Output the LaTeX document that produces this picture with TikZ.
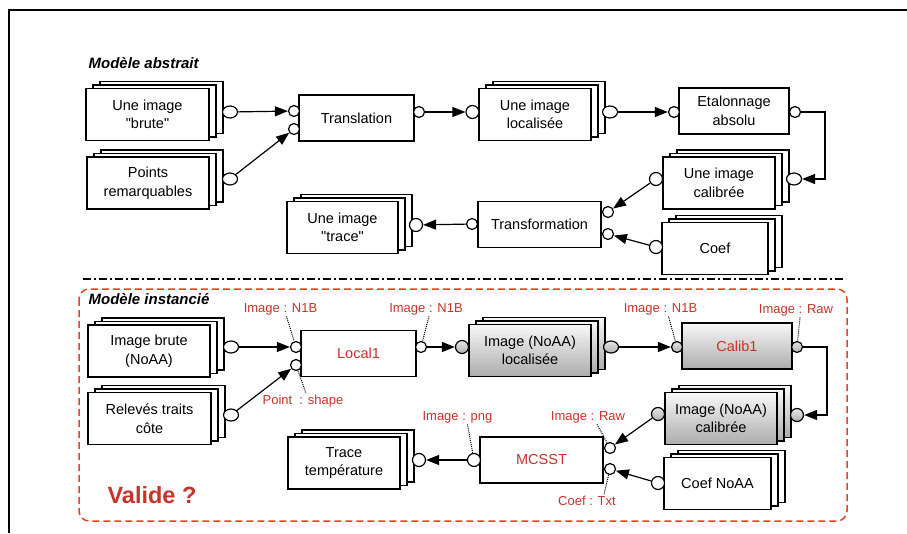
\documentclass[tikz,border=0pt]{standalone}
\usepackage{fontspec}
\newfontfamily\helv{Liberation Sans}
\usetikzlibrary{shapes.geometric,shadows,arrows.meta}
\definecolor{labred}{RGB}{200,50,40}
\definecolor{dashred}{RGB}{235,65,30}

\begin{document}
\begin{tikzpicture}[x=1pt,y=-1pt]
        \tikzstyle{every node}=[font=\helv\fontsize{14.5}{18.5}\selectfont, align=center, line width=1.2pt]
        \tikzstyle{grey}=[top color=gray!6, bottom color=gray!65]
        \tikzstyle{gport}=[top color=gray!20, bottom color=gray!60]
        \tikzstyle{box}=[draw, fill=white, minimum height=46pt, inner sep=2pt]
        \tikzstyle{stk}=[box, minimum height=52pt,
            copy shadow={shadow xshift=14pt, shadow yshift=7pt, draw, fill=white},
            copy shadow={shadow xshift=7pt, shadow yshift=3.5pt, draw, fill=white}]
        \tikzstyle{gstk}=[box, grey, minimum height=52pt,
            copy shadow={shadow xshift=14pt, shadow yshift=7pt, draw, grey},
            copy shadow={shadow xshift=7pt, shadow yshift=3.5pt, draw, grey}]
        \tikzstyle{port}=[draw, circle, fill=white, inner sep=0pt, minimum size=11pt]
        \tikzstyle{bport}=[port, minimum size=13pt]
        \tikzstyle{eport}=[draw, ellipse, fill=white, inner sep=0pt, minimum width=15pt, minimum height=12pt]
        \tikzstyle{arr}=[line width=1.2pt, -{Triangle[length=13pt,width=10pt]}]
        \tikzstyle{lbl}=[text=labred, font=\helv\fontsize{13}{15}\selectfont, inner sep=1pt]
        \tikzstyle{lead}=[densely dotted, line width=1pt]
        \tikzstyle{title}=[anchor=west, inner sep=0pt, font=\helv\fontsize{15}{18}\selectfont\bfseries\itshape]

        \useasboundingbox (0,0) rectangle (907,533);
        \draw[line width=1.2pt] (9,533) -- (9,10) -- (907,10);

        \node[title] (tabs) at (88,63) {Modèle abstrait};
        \node[stk, minimum width=123pt] (brute) at (147.5,114.5) {Une image\\"brute"};
        \node[stk, minimum width=122pt] (points) at (148,183) {Points\\remarquables};
        \node[box, minimum width=115pt] (trans) at (356.5,118) {Translation};
        \node[stk, minimum width=112pt] (loc) at (535,114.5) {Une image\\localisée};
        \node[box, minimum width=110pt] (etal) at (734,111) {Etalonnage\\absolu};
        \node[stk, minimum width=112pt] (calib) at (719,183) {Une image\\calibrée};
        \node[box, minimum width=123pt] (transf) at (539.5,224.5) {Transformation};
        \node[stk, minimum width=106pt] (coef) at (715,248.5) {Coef};
        \node[stk, minimum width=111pt] (trace) at (342.5,227.5) {Une image\\"trace"};

        \node[eport] (pb) at (230,112) {};
        \node[eport] (pp) at (230,179) {};
        \node[port] (t1) at (294,111) {};
        \node[port] (t2) at (294,129) {};
        \node[port] (to) at (419,112) {};
        \node[bport] (li) at (472.5,112) {};
        \node[eport] (lo) at (610,112) {};
        \node[port] (ei) at (674,112) {};
        \node[port] (eo) at (795,112) {};
        \node[eport] (co) at (794,179) {};
        \node[bport] (ci) at (656,179) {};
        \node[port] (f1) at (608,212) {};
        \node[port] (f2) at (608,234) {};
        \node[port] (fo) at (472,224) {};
        \node[bport] (kp) at (656,247) {};
        \node[bport] (tp) at (416,225) {};
        \coordinate (ka) at (825,112);

        \draw[arr] (pb) -- (t1);
        \draw[arr] (pp) -- (t2);
        \draw[arr] (to) -- (li);
        \draw[arr] (lo) -- (ei);
        \draw[arr] (eo) -- (ka) |- (co);
        \draw[arr] (ci) -- (f1);
        \draw[arr] (kp) -- (f2);
        \draw[arr] (fo) -- (tp);

        \draw[line width=2pt, dash pattern=on 8pt off 3pt on 2pt off 3pt] (83,279) -- (846,279);
        \draw[dashred, line width=1.5pt, dash pattern=on 7pt off 4pt, rounded corners=10pt] (79,289) rectangle (847,521);

        \node[title] (tinst) at (88,299) {Modèle instancié};
        \node[stk, minimum width=122pt] (ibrute) at (149,351) {Image brute\\(NoAA)};
        \node[stk, minimum width=123pt] (releves) at (149.5,418.5) {Relevés traits\\côte};
        \node[box, minimum width=115pt, text=labred] (local) at (358.5,353.5) {Local1};
        \node[gstk, minimum width=122pt] (iloc) at (530,350.5) {Image (NoAA)\\localisée};
        \node[box, grey, minimum width=110pt, text=labred] (calibu) at (737,346) {Calib1};
        \node[gstk, minimum width=112pt] (icalib) at (721,418.5) {Image (NoAA)\\calibrée};
        \node[box, minimum width=123pt, text=labred] (mcsst) at (541.5,460) {MCSST};
        \node[stk, minimum width=107pt] (coefn) at (717.5,483.5) {Coef NoAA};
        \node[stk, minimum width=112pt] (ttemp) at (344,463) {Trace\\température};

        \node[eport] (qb) at (231,347) {};
        \node[eport] (qr) at (231,415) {};
        \node[port] (l1) at (296,347) {};
        \node[port] (l2) at (296,365) {};
        \node[port] (lo1) at (421,347) {};
        \node[bport, gport] (gi) at (462,347) {};
        \node[eport, gport] (go) at (611,347) {};
        \node[port, gport] (c1) at (677,347) {};
        \node[port, gport] (c2) at (797,347) {};
        \node[bport, gport] (hr) at (797,415) {};
        \node[bport, gport] (hl) at (658,414) {};
        \node[port] (m1) at (610,448) {};
        \node[port] (m2) at (610,469) {};
        \node[bport] (mo) at (474,460) {};
        \node[bport] (kn) at (658,483) {};
        \node[bport] (tt) at (419,460) {};
        \coordinate (kb) at (827,347);

        \draw[arr] (qb) -- (l1);
        \draw[arr] (qr) -- (l2);
        \draw[arr] (lo1) -- (gi);
        \draw[arr] (go) -- (c1);
        \draw[arr] (c2) -- (kb) |- (hr);
        \draw[arr] (hl) -- (m1);
        \draw[arr] (kn) -- (m2);
        \draw[arr] (mo) -- (tt);

        \node[lbl] (n1) at (280.5,309) {Image : N1B};
        \node[lbl] (n2) at (426,309) {Image : N1B};
        \node[lbl] (n3) at (303,401) {Point~ : shape};
        \node[lbl] (n4) at (660.5,309) {Image : N1B};
        \node[lbl] (n5) at (796,310) {Image : Raw};
        \node[lbl] (n6) at (457.5,417) {Image : png};
        \node[lbl] (n7) at (588,417) {Image : Raw};
        \node[lbl] (n8) at (587,501) {Coef : Txt};
        \draw[lead] ([xshift=6pt]n1.south) -- (l1);
        \draw[lead] ([xshift=3pt]n2.south) -- (lo1);
        \draw[lead] (l2) -- ([xshift=3pt]n3.north);
        \draw[lead] ([xshift=8pt]n4.south) -- (c1);
        \draw[lead] ([xshift=4pt]n5.south) -- (c2);
        \draw[lead] ([xshift=10pt]n6.south) -- (mo);
        \draw[lead] ([xshift=9pt]n7.south) -- (m1);
        \draw[lead] (m2) -- ([xshift=17pt]n8.north);

        \node[anchor=west, inner sep=0pt, text=labred, font=\helv\fontsize{23.5}{28}\selectfont\bfseries] (valid) at (107,495) {Valide ?};
\end{tikzpicture}
\end{document}
